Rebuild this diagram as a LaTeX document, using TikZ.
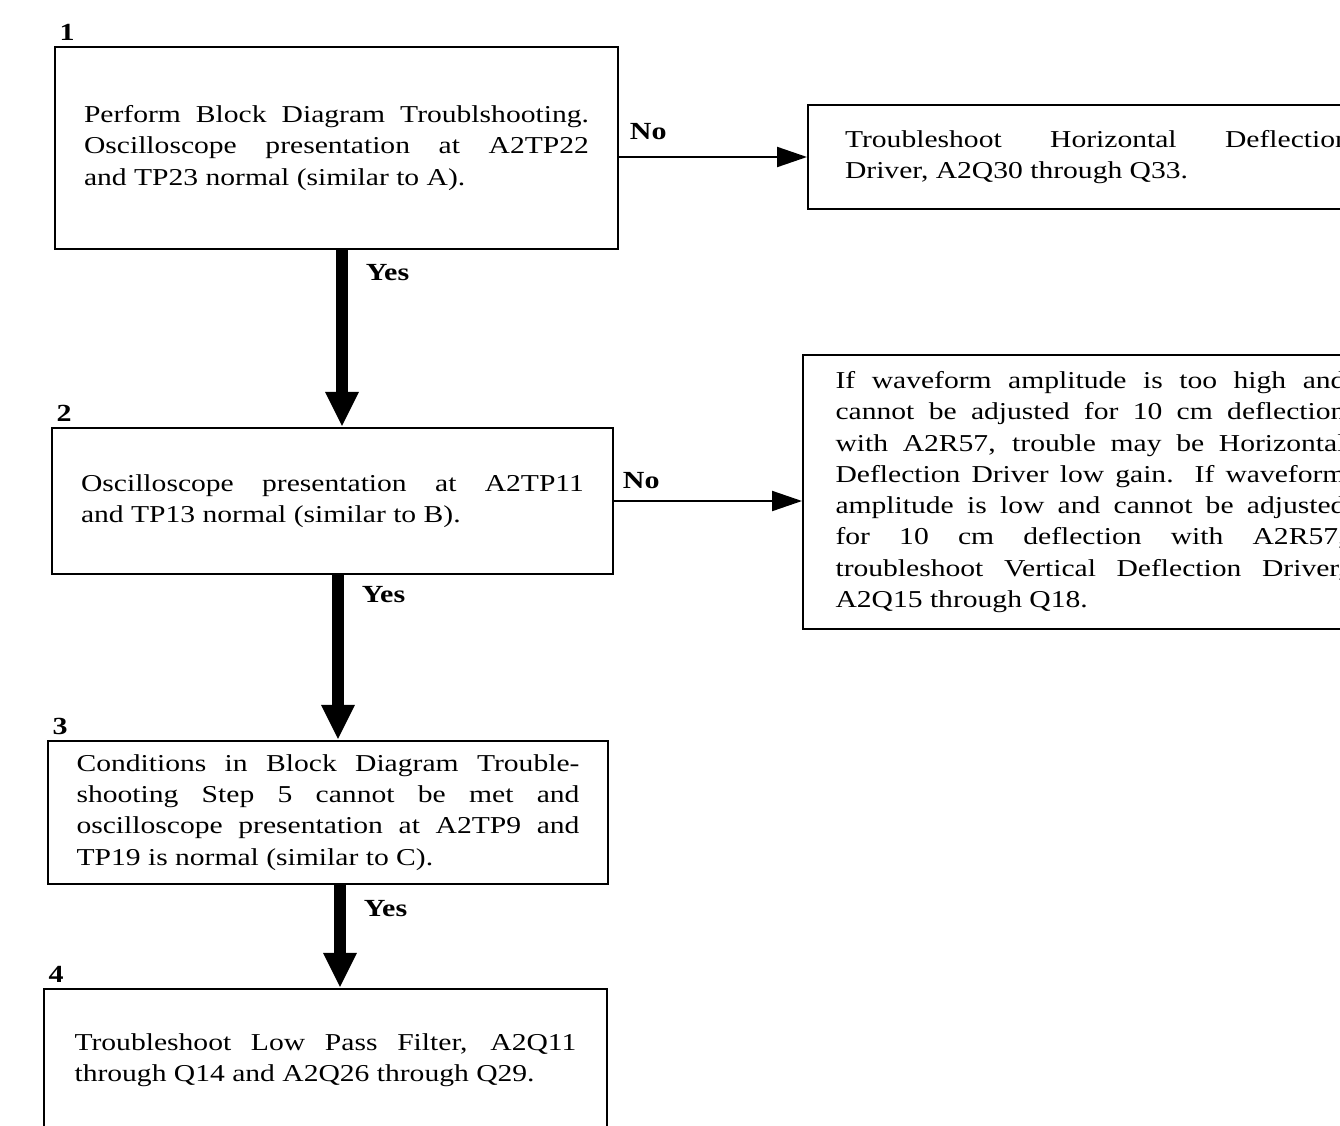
\documentclass[tikz,border=0pt]{standalone}
\usepackage{fontspec}
\setmainfont{Liberation Serif}[FakeStretch=1.22]
\usetikzlibrary{arrows.meta}

\tikzset{
  box/.style={draw, line width=1.2pt, rectangle, align=justify, inner sep=0pt},
  yes/.style={line width=0.24cm, -{Triangle[length=0.7cm,width=0.62cm]}},
  no/.style={line width=1.2pt, -{Triangle[length=0.6cm,width=0.4cm]}},
  lab/.style={font=\fontsize{14}{17}\selectfont\bfseries},
  num/.style={anchor=south west, inner sep=3pt, font=\fontsize{14}{17}\selectfont\bfseries}
}

\begin{document}
\begin{tikzpicture}[x=0.02cm, y=-0.02cm, font=\fontsize{13.8}{17.8}\selectfont]
\useasboundingbox (0,0) rectangle (1340,1126);
\clip (0,0) rectangle (1340,1126);
\node[box, text width=10.1cm, minimum width=11.26cm, minimum height=4.04cm] (p) at (336.5,148) {Perform Block Diagram Troublshooting.\linebreak Oscilloscope presentation at A2TP22\linebreak and TP23 normal (similar to A).};
\node[box, text width=10.1cm, minimum width=11.58cm, minimum height=2.08cm] (d) at (1097.5,157) {Troubleshoot Horizontal Deflection\linebreak Driver, A2Q30 through Q33.};
\node[box, text width=10.06cm, minimum width=11.22cm, minimum height=2.92cm] (o) at (332.5,501) {Oscilloscope presentation at A2TP11\linebreak and TP13 normal (similar to B).};
\node[box, text width=10.2cm, minimum width=11.5cm, minimum height=5.48cm] (w) at (1090.5,492) {If waveform amplitude is too high and\linebreak cannot be adjusted for 10 cm deflection\linebreak with A2R57, trouble may be Horizontal\linebreak Deflection Driver low gain. If waveform\linebreak amplitude is low and cannot be adjusted\linebreak for 10 cm deflection with A2R57,\linebreak troubleshoot Vertical Deflection Driver,\linebreak A2Q15 through Q18.};
\node[box, text width=10.06cm, minimum width=11.2cm, minimum height=2.86cm] (c) at (328,812.5) {Conditions in Block Diagram Trouble-\linebreak shooting Step 5 cannot be met and\linebreak oscilloscope presentation at A2TP9 and\linebreak TP19 is normal (similar to C).};
\node[box, text width=10.04cm, minimum width=11.26cm, minimum height=2.86cm] (f) at (325.5,1060.5) {Troubleshoot Low Pass Filter, A2Q11\linebreak through Q14 and A2Q26 through Q29.};

\node[num] (k1) at (p.north west) {1};
\node[num] (k2) at (o.north west) {2};
\node[num] (k3) at (c.north west) {3};
\node[num] (k4) at (f.north west) {4};

\draw[yes] ([xshift=0.11cm]p.south) -- node[lab, pos=0.13, anchor=west, xshift=0.24cm] (y1) {Yes} ([xshift=0.11cm]p.south |- o.north);
\draw[yes] ([xshift=0.11cm]o.south) -- node[lab, pos=0.12, anchor=west, xshift=0.24cm] (y2) {Yes} ([xshift=0.11cm]o.south |- c.north);
\draw[yes] ([xshift=0.24cm]c.south) -- node[lab, pos=0.23, anchor=west, xshift=0.24cm] (y3) {Yes} ([xshift=0.24cm]c.south |- f.north);

\draw[no] (d.west -| p.east) -- node[lab, pos=0, anchor=south west, xshift=0.08cm, yshift=0.2cm] (n1) {No} (d.west);
\draw[no] (o.east) -- node[lab, pos=0, anchor=south west, xshift=0.04cm, yshift=0.1cm] (n2) {No} (o.east -| w.west);
\end{tikzpicture}
\end{document}
